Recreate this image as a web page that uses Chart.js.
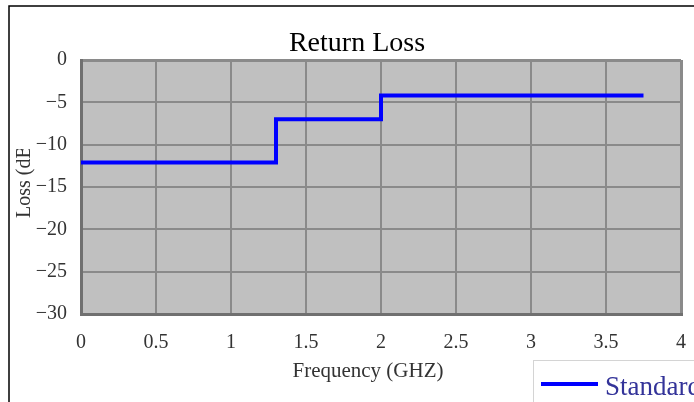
<!DOCTYPE html>
<html>
<head>
<meta charset="utf-8">
<title>Return Loss</title>
<script src="https://cdn.jsdelivr.net/npm/chart.js@4/dist/chart.umd.min.js"></script>
<style>
  html, body { margin: 0; padding: 0; background: #fff; }
  canvas { display: block; }
</style>
</head>
<body>
<canvas id="lossChart" width="694" height="402"></canvas>
<script>
// data
const freqGHz = [0, 1.3, 2, 3.75];
const lossDb = [-12.1, -7.0, -4.2, -4.2];
const xTicks = [0, 0.5, 1, 1.5, 2, 2.5, 3, 3.5, 4];
const yTicks = [0, -5, -10, -15, -20, -25, -30];
const seriesName = "Standard";

const serif = "'Liberation Serif', 'Times New Roman', serif";
const minus = v => String(v).replace("-", "\u2212");

// grey plot background, outer frame, titles and the legend box
const decorations = {
    id: "decorations",
    beforeDraw(chart) {
        const { ctx, chartArea: a } = chart;
        ctx.save();
        ctx.fillStyle = "#c0c0c0";
        ctx.fillRect(a.left, a.top, a.right - a.left, a.bottom - a.top);
        ctx.restore();
    },
    afterDraw(chart) {
        const { ctx } = chart;
        ctx.save();

        // outer frame (cut off at right and bottom)
        ctx.strokeStyle = "#000";
        ctx.lineWidth = 1.5;
        ctx.beginPath();
        ctx.moveTo(9, 402);
        ctx.lineTo(9, 6);
        ctx.lineTo(694, 6);
        ctx.stroke();

        // chart title
        ctx.fillStyle = "#000";
        ctx.font = "28px " + serif;
        ctx.textAlign = "center";
        ctx.textBaseline = "alphabetic";
        ctx.fillText("Return Loss", 357, 51);

        // x axis title
        ctx.fillStyle = "#333";
        ctx.font = "21px " + serif;
        ctx.fillText("Frequency (GHZ)", 368, 377);

        // y axis title, clipped like the original
        ctx.save();
        ctx.beginPath();
        ctx.rect(0, 149, 40, 120);
        ctx.clip();
        ctx.translate(30, 218);
        ctx.rotate(-Math.PI / 2);
        ctx.textAlign = "left";
        ctx.font = "20px " + serif;
        ctx.fillText("Loss (dB)", 0, 0);
        ctx.restore();

        // legend
        const ds = chart.data.datasets[0];
        ctx.fillStyle = "#fff";
        ctx.fillRect(533, 360, 170, 50);
        ctx.strokeStyle = "#d4d4d4";
        ctx.lineWidth = 1;
        ctx.strokeRect(533.5, 360.5, 170, 50);
        ctx.strokeStyle = ds.borderColor;
        ctx.lineWidth = 4;
        ctx.beginPath();
        ctx.moveTo(541, 384);
        ctx.lineTo(598, 384);
        ctx.stroke();
        ctx.fillStyle = "#333399";
        ctx.font = "27px " + serif;
        ctx.textAlign = "left";
        ctx.fillText(ds.label, 605, 395);

        ctx.restore();
    }
};

const edgeWidth = (ctx, lo, hi) => (ctx.tick && (ctx.tick.value === lo || ctx.tick.value === hi)) ? 3 : 2;

new Chart(document.getElementById("lossChart"), {
    type: "line",
    data: {
        datasets: [{
            label: seriesName,
            data: freqGHz.map((f, i) => ({ x: f, y: lossDb[i] })),
            borderColor: "#0000ff",
            borderWidth: 4,
            stepped: "before",
            pointRadius: 0,
            fill: false,
        }],
    },
    options: {
        responsive: false,
        animation: false,
        layout: { padding: { top: 60, right: 13, left: 0, bottom: 0 } },
        plugins: {
            legend: { display: false },
            title: { display: false },
            tooltip: { enabled: false },
        },
        scales: {
            x: {
                type: "linear",
                min: xTicks[0],
                max: xTicks[xTicks.length - 1],
                afterBuildTicks: s => { s.ticks = xTicks.map(v => ({ value: v })); },
                afterFit: s => { s.height = 88; s.paddingLeft = 0; s.paddingRight = 0; },
                grid: { color: "#8a8a8a", lineWidth: c => edgeWidth(c, 0, 4), drawTicks: false },
                border: { color: "#707070", width: 3 },
                ticks: {
                    padding: 17,
                    color: "#333",
                    font: { family: serif, size: 20 },
                    callback: v => minus(v),
                },
            },
            y: {
                min: -30,
                max: 0,
                afterBuildTicks: s => { s.ticks = yTicks.slice().reverse().map(v => ({ value: v })); },
                afterFit: s => { s.width = 81; s.paddingTop = 0; s.paddingBottom = 0; },
                grid: { color: "#8a8a8a", lineWidth: c => edgeWidth(c, -30, 0), drawTicks: false },
                border: { color: "#707070", width: 3 },
                ticks: {
                    padding: 14,
                    color: "#333",
                    font: { family: serif, size: 20 },
                    callback: v => minus(v),
                },
            },
        },
    },
    plugins: [decorations],
});
</script>
</body>
</html>
